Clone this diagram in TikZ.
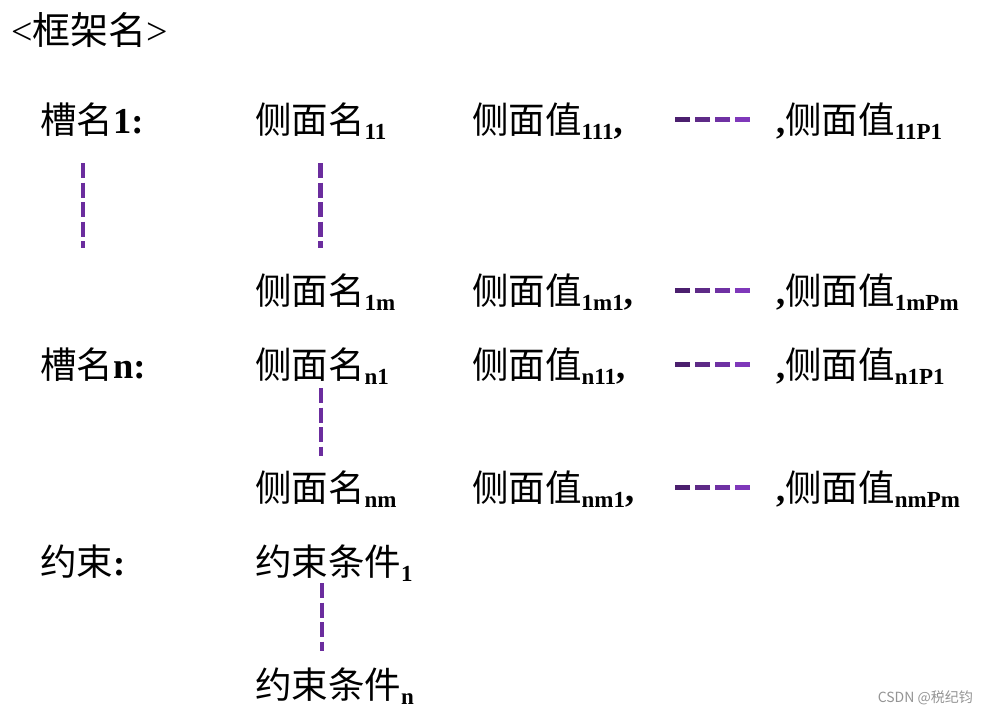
\documentclass[tikz,border=0pt]{standalone}
\usepackage{fontspec}
\setmainfont{Liberation Serif}
\newfontfamily\cjk{Noto Sans CJK SC}
\usetikzlibrary{positioning}
\definecolor{dashA}{RGB}{75,31,110}
\definecolor{dashB}{RGB}{94,42,135}
\definecolor{dashC}{RGB}{111,49,163}
\definecolor{dashD}{RGB}{127,56,186}
\definecolor{vdashcol}{RGB}{107,45,158}
\newcommand{\sub}[1]{\raisebox{-6pt}{\rmfamily\bfseries\fontsize{23}{23}\selectfont #1}}
\newcommand{\lat}[1]{{\rmfamily\bfseries #1}}

\begin{document}
\begin{tikzpicture}[x=1pt, y=-1pt,
    lbl/.style={anchor=base west, inner sep=0pt, font=\cjk\fontsize{36.5}{40}\selectfont},
    vdash/.style={vdashcol, line width=4.5pt, dash pattern=on 15pt off 4.5pt}]
        \useasboundingbox (0,0) rectangle (988,713);

        % Frame name
        \node[lbl, font=\cjk\fontsize{38}{40}\selectfont] (frame) at (11,44) {{\rmfamily <}框架名{\rmfamily >}};

        % Slot 1
        \node[lbl] (slot1) at (40,133) {槽名\lat{1:}};
        \node[lbl] (s11) at (255,133) {侧面名\sub{11}};
        \node[lbl] (v111) at (472,133) {侧面值\sub{111}\lat{,}};
        \node[lbl] (v11P1) at (776,133) {\lat{,}侧面值\sub{11P1}};
        \node[lbl] (s1m) at (255,304) {侧面名\sub{1m}};
        \node[lbl] (v1m1) at (472,304) {侧面值\sub{1m1}\lat{,}};
        \node[lbl] (v1mPm) at (776,304) {\lat{,}侧面值\sub{1mPm}};

        % Slot n
        \node[lbl] (slotn) at (40,378) {槽名\lat{n:}};
        \node[lbl] (sn1) at (255,378) {侧面名\sub{n1}};
        \node[lbl] (vn11) at (472,378) {侧面值\sub{n11}\lat{,}};
        \node[lbl] (vn1P1) at (776,378) {\lat{,}侧面值\sub{n1P1}};
        \node[lbl] (snm) at (255,501) {侧面名\sub{nm}};
        \node[lbl] (vnm1) at (472,501) {侧面值\sub{nm1}\lat{,}};
        \node[lbl] (vnmPm) at (776,501) {\lat{,}侧面值\sub{nmPm}};

        % Constraints
        \node[lbl] (cons) at (40,575) {约束\lat{:}};
        \node[lbl] (c1) at (255,575) {约束条件\sub{1}};
        \node[lbl] (cn) at (255,698) {约束条件\sub{n}};

        % Vertical ellipses
        \coordinate (slotgap) at (83,248);
        \draw[vdash] (slotgap |- 0,163) -- (slotgap);
        \draw[vdash] (320.5,163) -- (320.5,248);
        \draw[vdash] (321,388) -- (321,456);
        \draw[vdash] (322,583) -- (322,651);

        % Horizontal ellipses
        \foreach \row/\yy in {1/119.5, 2/290.5, 3/364.5, 4/487.5}{
            \foreach \i/\col in {0/dashA, 1/dashB, 2/dashC, 3/dashD}
                \draw[\col, line width=5pt] (675+20*\i,\yy) -- ++(15,0);
        }

        % Watermark
        \node[anchor=base east, inner sep=0pt, text=black!42,
              font=\cjk\fontsize{14}{16}\selectfont] (mark) at (973,702) {CSDN @税纪钧};
\end{tikzpicture}
\end{document}
